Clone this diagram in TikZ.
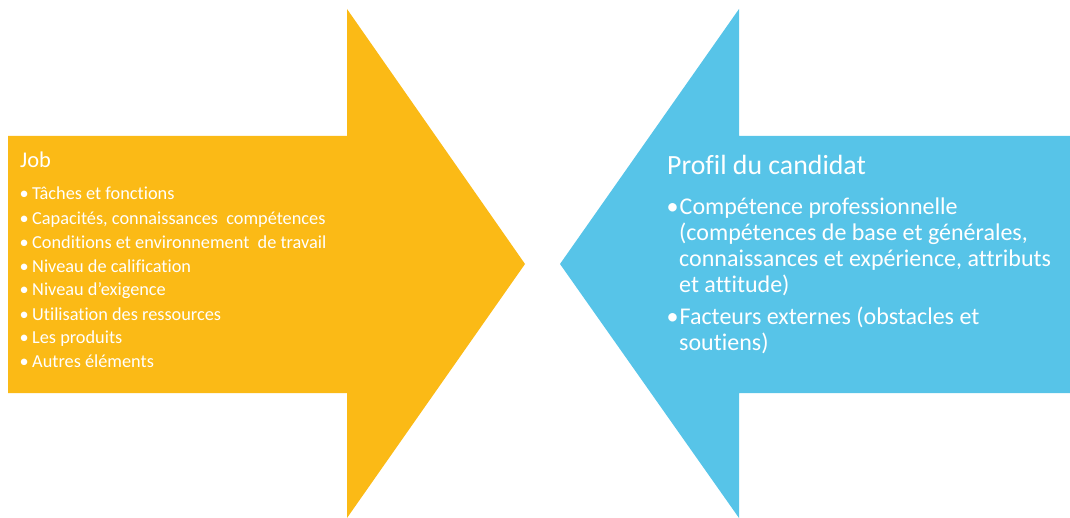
\documentclass[tikz,border=0pt]{standalone}
\usepackage{fontspec}
\setmainfont{Carlito}[Ligatures={NoCommon}]
\definecolor{jobor}{RGB}{251,186,22}
\definecolor{candbl}{RGB}{87,196,232}
\begin{document}
\begin{tikzpicture}[x=1pt,y=-1pt,
  lefttxt/.style={anchor=base west,inner sep=0pt,text=white,font=\fontsize{18.3}{22}\selectfont},
  righttxt/.style={anchor=base west,inner sep=0pt,text=white,font=\fontsize{24}{28}\selectfont},
  ttl/.style={anchor=base west,inner sep=0pt,text=white}]
\useasboundingbox (0,0) rectangle (1070,518);
% left arrow
\fill[jobor] (8,136) -- (347,136) -- (347,9) -- (525,264) -- (347,518) -- (347,393) -- (8,393) -- cycle;
% right arrow
\fill[candbl] (1070,136) -- (739,136) -- (739,9) -- (560,264) -- (739,518) -- (739,393) -- (1070,393) -- cycle;
% left text
\node[ttl,font=\fontsize{22.5}{26}\selectfont] (job) at (20,167.5) {Job};
\foreach \y/\t [count=\i] in {199.3/{Tâches et fonctions},224.3/{Capacités, connaissances\ \ compétences},248.3/{Conditions et environnement\ \ de travail},272.7/{Niveau de calification},296/{Niveau d'exigence},320/{Utilisation des ressources},343.3/{Les produits},367.7/{Autres éléments}}{
  \node[lefttxt] (lb\i) at (19.5,\y) {•};
  \node[lefttxt] (l\i) at (32,\y) {\t};
}
% right text
\node[ttl,font=\fontsize{27.8}{32}\selectfont] (prof) at (667,174.5) {Profil du candidat};
\node[righttxt] (rb1) at (666.5,215) {•};
\node[righttxt] (r1) at (679.5,215) {Compétence professionnelle};
\node[righttxt] (r2) at (679,240.5) {(compétences de base et générales,};
\node[righttxt] (r3) at (679,266.5) {connaissances et expérience, attributs};
\node[righttxt] (r4) at (679,292.5) {et attitude)};
\node[righttxt] (rb2) at (666.5,324) {•};
\node[righttxt] (r5) at (679.5,324) {Facteurs externes (obstacles et};
\node[righttxt] (r6) at (679,350) {soutiens)};
\end{tikzpicture}
\end{document}
